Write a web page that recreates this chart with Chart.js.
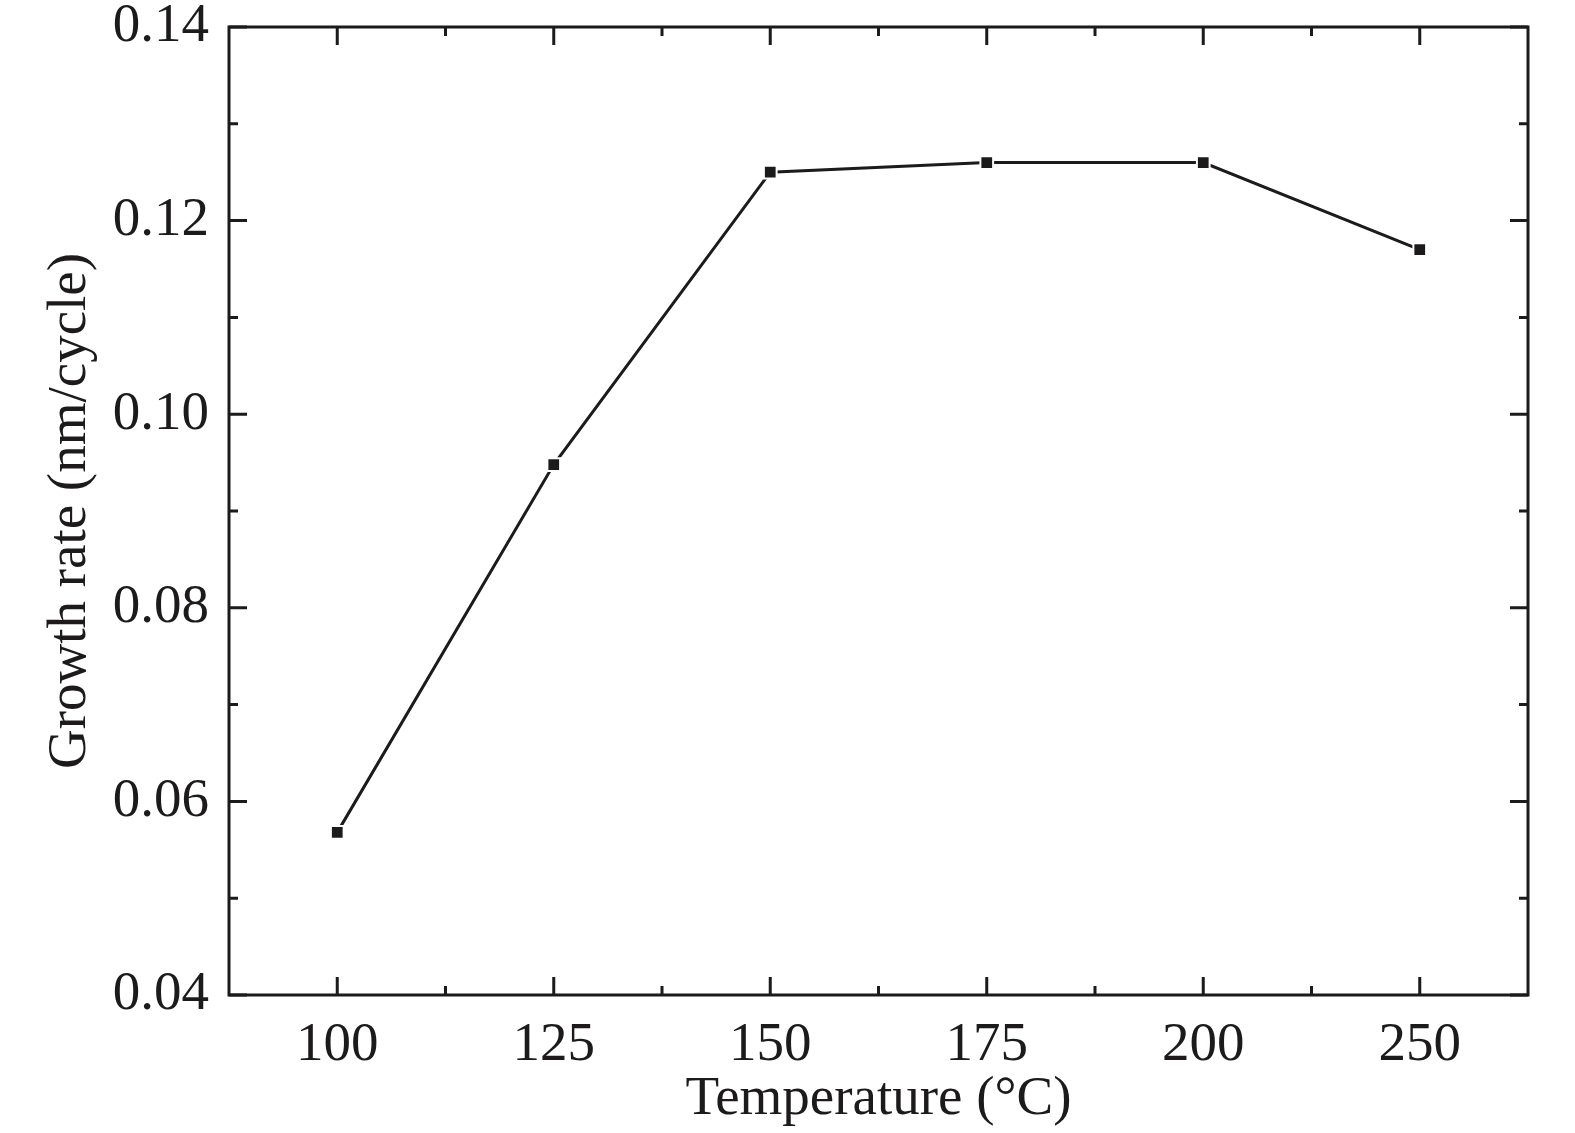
<!DOCTYPE html>
<html>
<head>
<meta charset="utf-8">
<script src="https://cdn.jsdelivr.net/npm/chart.js@4/dist/chart.umd.min.js"></script>
<style>
  html,body{margin:0;padding:0;background:#fff;}
  #wrap{width:1575px;height:1133px;}
</style>
</head>
<body>
<div id="wrap"><canvas id="chart" width="1575" height="1133"></canvas></div>
<script>
const temperatures = ['100','125','150','175','200','250'];
const growthRate = [0.0568, 0.0948, 0.125, 0.126, 0.126, 0.117];
const yTicks = [0.04, 0.06, 0.08, 0.10, 0.12, 0.14];

const ink = '#1d1a1b';
const serif = '"Liberation Serif","Times New Roman",serif';

// frame + inward ticks on all four sides
const framePlugin = {
  id: 'frame',
  afterDraw(chart){
    const {ctx, chartArea:a, scales:{x, y}} = chart;
    ctx.save();
    ctx.strokeStyle = ink;
    ctx.lineWidth = 3;
    ctx.lineCap = 'butt';
    ctx.strokeRect(a.left, a.top, a.right - a.left, a.bottom - a.top);
    const major = 18, minor = 9;
    ctx.beginPath();
    // x ticks: major at categories, minor at boundaries
    temperatures.forEach((t,i)=>{
      const px = x.getPixelForValue(i);
      ctx.moveTo(px, a.bottom); ctx.lineTo(px, a.bottom - major);
      ctx.moveTo(px, a.top); ctx.lineTo(px, a.top + major);
      if(i < temperatures.length - 1){
        const mx = (px + x.getPixelForValue(i+1)) / 2;
        ctx.moveTo(mx, a.bottom); ctx.lineTo(mx, a.bottom - minor);
        ctx.moveTo(mx, a.top); ctx.lineTo(mx, a.top + minor);
      }
    });
    // y ticks
    yTicks.forEach((v,i)=>{
      const py = y.getPixelForValue(v);
      ctx.moveTo(a.left, py); ctx.lineTo(a.left + major, py);
      ctx.moveTo(a.right, py); ctx.lineTo(a.right - major, py);
      if(i < yTicks.length - 1){
        const my = y.getPixelForValue((v + yTicks[i+1]) / 2);
        ctx.moveTo(a.left, my); ctx.lineTo(a.left + minor, my);
        ctx.moveTo(a.right, my); ctx.lineTo(a.right - minor, my);
      }
    });
    ctx.stroke();
    ctx.restore();
  }
};

new Chart(document.getElementById('chart').getContext('2d'), {
  type: 'line',
  data: {
    labels: temperatures,
    datasets: [{
      data: growthRate,
      borderColor: ink,
      borderWidth: 3,
      pointStyle: 'rect',
      pointRadius: 9,
      pointBackgroundColor: ink,
      pointBorderColor: '#fff',
      pointBorderWidth: 2,
      tension: 0
    }]
  },
  options: {
    responsive: false,
    animation: false,
    layout: {padding: {left: 0, right: 47, top: 27, bottom: 0}},
    plugins: {legend: {display: false}, tooltip: {enabled: false}},
    scales: {
      x: {
        type: 'category',
        offset: true,
        grid: {display: false, drawTicks: false},
        border: {display: false},
        ticks: {color: ink, padding: 18, font: {family: serif, size: 55}, maxRotation: 0},
        title: {display: true, text: 'Temperature (°C)', color: ink, padding: {top: 9, bottom: 0},
          font: {family: serif, size: 55}},
        afterFit(s){ s.height = 138; s.paddingLeft = 0; s.paddingRight = 0; }
      },
      y: {
        min: 0.04, max: 0.14,
        grid: {display: false, drawTicks: false},
        border: {display: false},
        afterBuildTicks(s){ s.ticks = yTicks.map(v=>({value: v})); },
        ticks: {color: ink, padding: 20, font: {family: serif, size: 55},
          callback: v => v.toFixed(2)},
        title: {display: true, text: 'Growth rate (nm/cycle)', color: ink, padding: {top: 38, bottom: 0},
          font: {family: serif, size: 55}},
        afterFit(s){ s.width = 229; s.paddingTop = 0; s.paddingBottom = 0; }
      }
    }
  },
  plugins: [framePlugin]
});
</script>
</body>
</html>
